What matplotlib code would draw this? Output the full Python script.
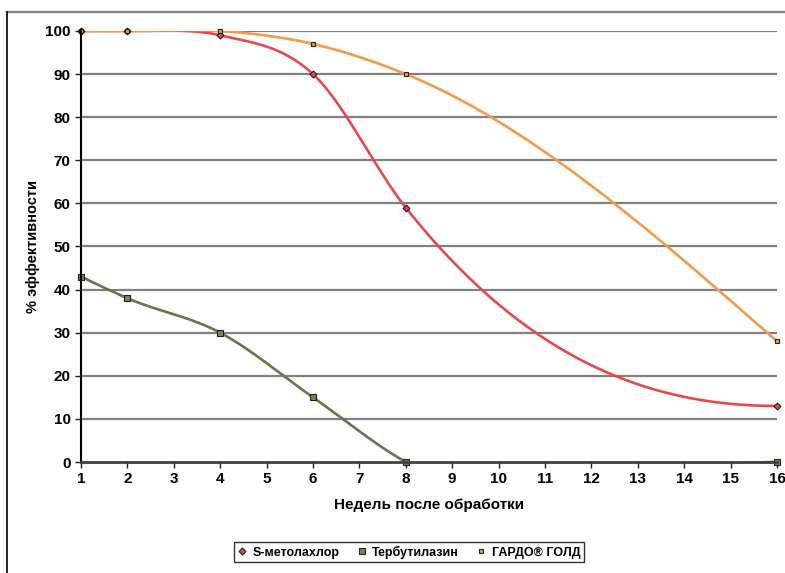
import matplotlib.pyplot as plt
import numpy as np
from matplotlib.lines import Line2D

plt.rcParams['font.family'] = ['Liberation Sans', 'DejaVu Sans']
plt.rcParams['font.weight'] = 'bold'

weeks = [1, 2, 4, 6, 8, 16]
s_metolachlor = [100, 100, 99, 90, 59, 13]
terbuthylazine = [43, 38, 30, 15, 0, 0]
gardo_gold = [100, 100, 100, 97, 90, 28]

series_names = ['S-метолахлор', 'Тербутилазин', 'ГАРДО® ГОЛД']
colors = ['#e8484a', '#5f7a45', '#f59a45']
markers = ['D', 's', 's']
marker_sizes = [3.5, 5, 3]
marker_faces = ['#e8484a', '#6f8a55', '#f59a45']


def end_tangent(s_end, s_next, h_end, h_next):
    # parabola estimate; flat if it turns against the secant, else halfway to the secant
    par = s_end + (s_end - s_next) * h_end / (h_end + h_next)
    if par * s_end <= 0:
        return 0.0
    return 0.5 * (par + s_end)


def smooth(xs, ys, n=60):
    # smoothed line through the points (cubic Hermite, 3-point tangents)
    x = np.asarray(xs, float)
    y = np.asarray(ys, float)
    h = np.diff(x)
    s = np.diff(y) / h
    m = np.zeros_like(y)
    for i in range(1, len(x) - 1):
        m[i] = (h[i] * s[i - 1] + h[i - 1] * s[i]) / (h[i - 1] + h[i])
    m[0] = end_tangent(s[0], s[1], h[0], h[1])
    m[-1] = end_tangent(s[-1], s[-2], h[-1], h[-2])
    px, py = [], []
    for i in range(len(x) - 1):
        t = np.linspace(0, 1, n)
        h00 = 2 * t ** 3 - 3 * t ** 2 + 1
        h10 = t ** 3 - 2 * t ** 2 + t
        h01 = -2 * t ** 3 + 3 * t ** 2
        h11 = t ** 3 - t ** 2
        seg = h00 * y[i] + h10 * h[i] * m[i] + h01 * y[i + 1] + h11 * h[i] * m[i + 1]
        px.append(x[i] + t * h[i])
        py.append(seg)
    return np.concatenate(px), np.concatenate(py)


fig = plt.figure(figsize=(7.85, 5.73), dpi=100)
ax = fig.add_axes([81 / 785, 1 - 462 / 573, (777 - 81) / 785, (462 - 31) / 573])

for yy in range(10, 101, 10):
    ax.axhline(yy, color='#808080', lw=1.6, zorder=1)

handles = []
for ys, name, c, m, ms, mf in zip([s_metolachlor, terbuthylazine, gardo_gold], series_names,
                                  colors, markers, marker_sizes, marker_faces):
    sx, sy = smooth(weeks, ys)
    ax.plot(sx, sy, color=c, lw=1.9, zorder=3, solid_capstyle='round')
    ax.plot(weeks, ys, linestyle='none', marker=m, ms=ms, mfc=mf, mec='#202020', mew=0.8,
            zorder=4, clip_on=False)
    handles.append(Line2D([0], [0], linestyle='none', marker=m, ms=ms, mfc=mf, mec='#202020',
                          mew=0.8, label=name))

ax.set_xlim(1, 16)
ax.set_ylim(0, 100)
ax.set_xticks(range(1, 17))
ax.set_yticks(range(0, 101, 10))
ax.tick_params(axis='both', labelsize=11, length=4, width=1, direction='out', color='#202020')
for lbl in ax.get_xticklabels() + ax.get_yticklabels():
    lbl.set_fontweight('bold')
ax.spines['top'].set_visible(False)
ax.spines['right'].set_visible(False)
ax.spines['left'].set_color('black')
ax.spines['left'].set_linewidth(1.5)
ax.spines['bottom'].set_color('#404040')
ax.spines['bottom'].set_linewidth(2)
ax.spines['left'].set_zorder(5)
ax.spines['bottom'].set_zorder(5)

ax.set_xlabel('Недель после обработки', fontsize=11, fontweight='bold', labelpad=8)
ax.set_ylabel('% эффективности', fontsize=10.5, fontweight='bold')
ax.yaxis.set_label_coords(-0.059, 0.5)

leg = fig.legend(handles=handles, loc='center', bbox_to_anchor=(409 / 785, 1 - 552 / 573),
                 ncol=3, fontsize=9, frameon=True, fancybox=False, edgecolor='black',
                 handlelength=0.7, handletextpad=0.5, columnspacing=1.4, borderpad=0.3)
leg.get_frame().set_linewidth(1)

# outer frame lines (top and left)
fig.add_artist(Line2D([7 / 785, 1], [1 - 12 / 573, 1 - 12 / 573], color='#808080', lw=1.6))
fig.add_artist(Line2D([7 / 785, 7 / 785], [0, 1 - 12 / 573], color='black', lw=1.2))

fig.savefig('out.png', dpi=100)
